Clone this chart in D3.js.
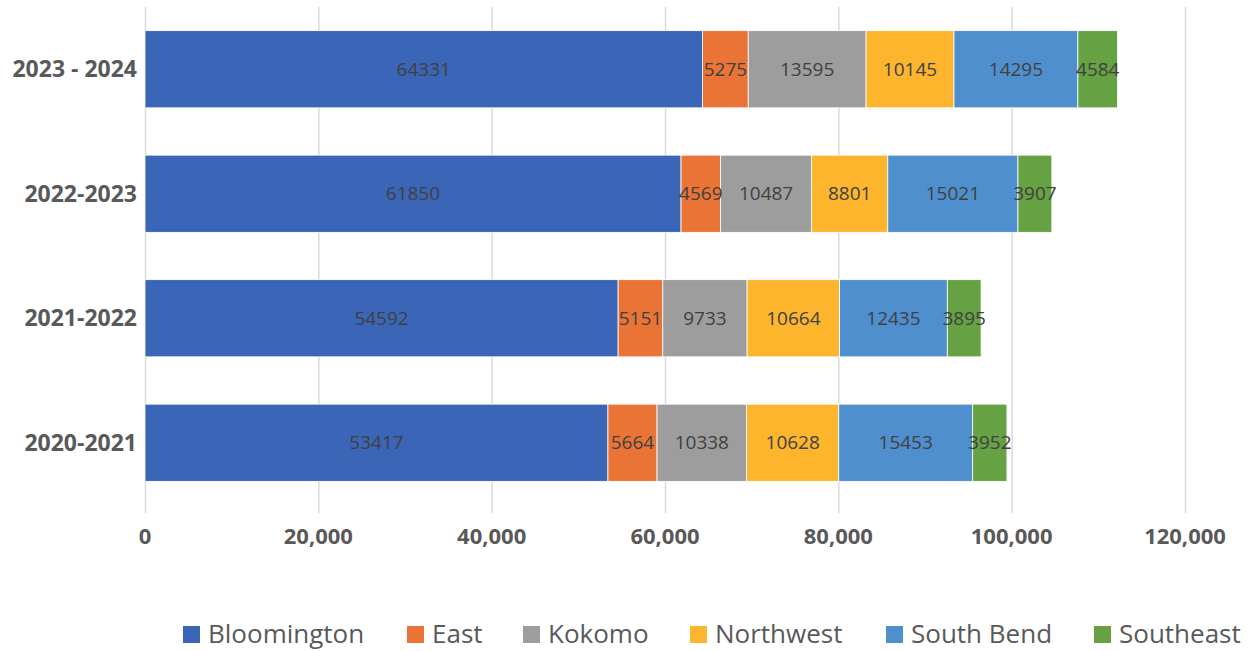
<!DOCTYPE html>
<html>
<head>
<meta charset="utf-8">
<script src="https://cdn.jsdelivr.net/npm/d3@7"></script>
<style>
body { margin: 0; background: #fff; }
</style>
</head>
<body>
<div id="chart"></div>
<script>
var years = ["2023 - 2024", "2022-2023", "2021-2022", "2020-2021"];
var campuses = ["Bloomington", "East", "Kokomo", "Northwest", "South Bend", "Southeast"];
var colors = ["#3B65B7", "#EA7436", "#9D9D9D", "#FDB52D", "#4F8FCD", "#66A143"];
// values per campus, in order of years
var bloomington = [64331, 61850, 54592, 53417];
var east = [5275, 4569, 5151, 5664];
var kokomo = [13595, 10487, 9733, 10338];
var northwest = [10145, 8801, 10664, 10628];
var southBend = [14295, 15021, 12435, 15453];
var southeast = [4584, 3907, 3895, 3952];
var ticks = [0, 20000, 40000, 60000, 80000, 100000, 120000];

var rows = years.map(function(y, i) {
  return {
    year: y,
    "Bloomington": bloomington[i],
    "East": east[i],
    "Kokomo": kokomo[i],
    "Northwest": northwest[i],
    "South Bend": southBend[i],
    "Southeast": southeast[i]
  };
});

var width = 1248, height = 651;
var margin = {top: 7, left: 145, right: 63, bottom: 146};

var svg = d3.select("#chart").append("svg")
    .attr("width", width)
    .attr("height", height)
    .style("font-family", "'Open Sans', sans-serif");

var x = d3.scaleLinear()
    .domain([0, 120000])
    .range([margin.left, width - margin.right]);

var y = d3.scaleBand()
    .domain(years)
    .range([margin.top, height - margin.bottom])
    .paddingInner(0.38)
    .paddingOuter(0.19);

var z = d3.scaleOrdinal().domain(campuses).range(colors);

var series = d3.stack().keys(campuses)(rows);

// gridlines
svg.append("g")
  .selectAll("line")
  .data(ticks)
  .enter().append("line")
    .attr("x1", function(d) { return x(d) + 0.5; })
    .attr("x2", function(d) { return x(d) + 0.5; })
    .attr("y1", margin.top)
    .attr("y2", height - margin.bottom + 8)
    .attr("stroke", "#d9d9d9")
    .attr("stroke-width", 1.5);

// bars
svg.append("g")
  .selectAll("g")
  .data(series)
  .enter().append("g")
    .attr("fill", function(d) { return z(d.key); })
  .selectAll("rect")
  .data(function(d) { return d; })
  .enter().append("rect")
    .attr("x", function(d) { return x(d[0]); })
    .attr("y", function(d) { return y(d.data.year); })
    .attr("width", function(d) { return x(d[1]) - x(d[0]); })
    .attr("height", y.bandwidth())
    .attr("stroke", "#fff")
    .attr("stroke-width", 0.8);

// data labels
svg.append("g")
  .selectAll("g")
  .data(series)
  .enter().append("g")
  .selectAll("text")
  .data(function(d) { return d; })
  .enter().append("text")
    .attr("x", function(d) { return (x(d[0]) + x(d[1])) / 2; })
    .attr("y", function(d) { return y(d.data.year) + y.bandwidth() / 2; })
    .attr("dy", "0.35em")
    .attr("text-anchor", "middle")
    .attr("fill", "#404040")
    .style("font-size", "19px")
    .text(function(d) { return d[1] - d[0]; });

// category labels
svg.append("g")
  .selectAll("text")
  .data(years)
  .enter().append("text")
    .attr("x", margin.left - 8)
    .attr("y", function(d) { return y(d) + y.bandwidth() / 2; })
    .attr("dy", "0.35em")
    .attr("text-anchor", "end")
    .attr("fill", "#595959")
    .style("font-size", "23px")
    .style("font-weight", "bold")
    .text(function(d) { return d; });

// x tick labels
svg.append("g")
  .selectAll("text")
  .data(ticks)
  .enter().append("text")
    .attr("x", function(d) { return x(d); })
    .attr("y", 536)
    .attr("dy", "0.35em")
    .attr("text-anchor", "middle")
    .attr("fill", "#595959")
    .style("font-size", "22px")
    .style("font-weight", "bold")
    .text(function(d) { return d3.format(",")(d); });

// legend
var legendX = [183, 407, 523, 690, 886, 1094];
var legend = svg.append("g")
  .selectAll("g")
  .data(campuses)
  .enter().append("g")
    .attr("transform", function(d, i) { return "translate(" + legendX[i] + ",634)"; });

legend.append("rect")
    .attr("x", 0)
    .attr("y", -8)
    .attr("width", 17)
    .attr("height", 17)
    .attr("fill", function(d) { return z(d); });

legend.append("text")
    .attr("x", 25)
    .attr("y", 0)
    .attr("dy", "0.35em")
    .attr("fill", "#595959")
    .style("font-size", "26px")
    .text(function(d) { return d; });
</script>
</body>
</html>
